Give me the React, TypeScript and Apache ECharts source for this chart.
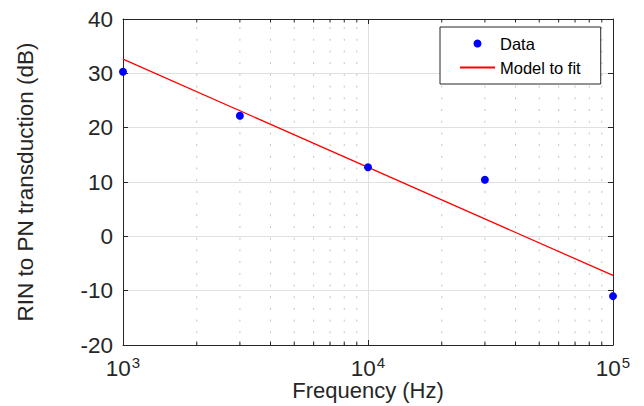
import React, { useEffect, useRef } from "react";
import * as echarts from "echarts";

const dataPoints: [number, number][] = [
  [1000, 30.3],
  [3000, 22.2],
  [10000, 12.7],
  [30000, 10.4],
  [100000, -11.0],
];
const modelLine: [number, number][] = [
  [1000, 32.6],
  [100000, -7.2],
];
const minorXTicks: number[] = [
  2000, 3000, 4000, 5000, 6000, 7000, 8000, 9000,
  20000, 30000, 40000, 50000, 60000, 70000, 80000, 90000,
];
const yTicks = { min: -20, max: 40, interval: 10 };
const xRange = { min: 1000, max: 100000 };

const FONT = "'Liberation Sans', Arial, Helvetica, sans-serif";
const AX = "#262626";

export default function App() {
  const ref = useRef<HTMLDivElement>(null);
  useEffect(() => {
    if (!ref.current) return;
    const chart = echarts.init(ref.current, undefined, { renderer: "svg" });
    const xLabelRich = {
      b: { fontSize: 22.5, fontFamily: FONT, color: AX, lineHeight: 25, verticalAlign: "bottom" },
      s: { fontSize: 15, fontFamily: FONT, color: AX, lineHeight: 15, verticalAlign: "top", padding: [0, 0, 0, 1] },
    };
    chart.setOption({
      animation: false,
      backgroundColor: "#ffffff",
      grid: { left: 123, right: 31, top: 19, bottom: 61, outerBoundsMode: "none", containLabel: false },
      legend: {
        data: [
          { name: "Data" },
          { name: "Model to fit", itemStyle: { opacity: 0 } },
        ],
        orient: "vertical",
        left: 440,
        top: 27,
        padding: [8, 20, 8, 19],
        itemWidth: 35,
        itemHeight: 8,
        itemGap: 7,
        borderColor: AX,
        borderWidth: 1,
        backgroundColor: "#ffffff",
        textStyle: { fontSize: 16.5, color: "#000", fontFamily: FONT },
      },
      xAxis: [
        {
          type: "log",
          logBase: 10,
          min: xRange.min,
          max: xRange.max,
          name: "Frequency (Hz)",
          nameLocation: "middle",
          nameGap: 36,
          nameMoveOverlap: false,
          nameTextStyle: { fontSize: 22, fontFamily: FONT, color: AX, lineHeight: 19 },
          axisLine: { show: true, onZero: false, lineStyle: { color: AX, width: 1 } },
          axisTick: { show: true, inside: true, length: 5, lineStyle: { color: AX } },
          axisLabel: {
            margin: 10,
            formatter: (v: number) => `{b|10}{s|${Math.round(Math.log10(v))}}`,
            rich: xLabelRich,
          },
          splitLine: { show: true, lineStyle: { color: "#e0e0e0", width: 1 } },
        },
        {
          type: "log",
          logBase: 10,
          min: xRange.min,
          max: xRange.max,
          position: "top",
          axisLine: { show: true, onZero: false, lineStyle: { color: AX, width: 1 } },
          axisTick: { show: true, inside: true, length: 5, lineStyle: { color: AX } },
          axisLabel: { show: false },
          splitLine: { show: false },
        },
      ],
      yAxis: [
        {
          type: "value",
          min: yTicks.min,
          max: yTicks.max,
          interval: yTicks.interval,
          name: "RIN to PN transduction (dB)",
          nameLocation: "middle",
          nameGap: 86,
          nameTextStyle: { fontSize: 22.5, fontFamily: FONT, color: AX },
          axisLine: { show: true, onZero: false, lineStyle: { color: AX, width: 1 } },
          axisTick: { show: true, inside: true, length: 5, lineStyle: { color: AX } },
          axisLabel: { margin: 10, fontSize: 22.5, fontFamily: FONT, color: AX },
          splitLine: { show: true, lineStyle: { color: "#e0e0e0", width: 1 } },
        },
        {
          type: "value",
          min: yTicks.min,
          max: yTicks.max,
          interval: yTicks.interval,
          position: "right",
          axisLine: { show: true, onZero: false, lineStyle: { color: AX, width: 1 } },
          axisTick: { show: true, inside: true, length: 5, lineStyle: { color: AX } },
          axisLabel: { show: false },
          splitLine: { show: false },
        },
      ],
      series: [
        {
          type: "custom",
          name: "minor",
          xAxisIndex: 0,
          yAxisIndex: 0,
          silent: true,
          z: 1,
          data: minorXTicks.map((v) => [v, 0]),
          encode: { x: 0, y: 1 },
          renderItem: (params: any, api: any) => {
            const x = api.value(0);
            const bottom = api.coord([x, yTicks.min]);
            const top = api.coord([x, yTicks.max]);
            return {
              type: "group",
              children: [
                {
                  type: "line",
                  shape: { x1: bottom[0], y1: bottom[1], x2: top[0], y2: top[1] },
                  style: { stroke: "#c4c4c4", lineWidth: 1, lineDash: [2, 9.7] },
                },
                {
                  type: "line",
                  shape: { x1: bottom[0], y1: bottom[1], x2: bottom[0], y2: bottom[1] - 3.5 },
                  style: { stroke: AX, lineWidth: 1 },
                },
                {
                  type: "line",
                  shape: { x1: top[0], y1: top[1], x2: top[0], y2: top[1] + 3.5 },
                  style: { stroke: AX, lineWidth: 1 },
                },
              ],
            };
          },
        },
        {
          type: "line",
          name: "Model to fit",
          data: modelLine,
          symbol: "none",
          z: 3,
          lineStyle: { color: "#ff0000", width: 1.3 },
          itemStyle: { color: "#ff0000" },
        },
        {
          type: "scatter",
          name: "Data",
          data: dataPoints,
          symbol: "circle",
          symbolSize: 8,
          z: 4,
          itemStyle: { color: "#0000ff", opacity: 1 },
        },
      ],
    });
    return () => chart.dispose();
  }, []);
  return (
    <div
      ref={ref}
      style={{ position: "absolute", left: 0, top: 0, width: 644, height: 406 }}
    />
  );
}
